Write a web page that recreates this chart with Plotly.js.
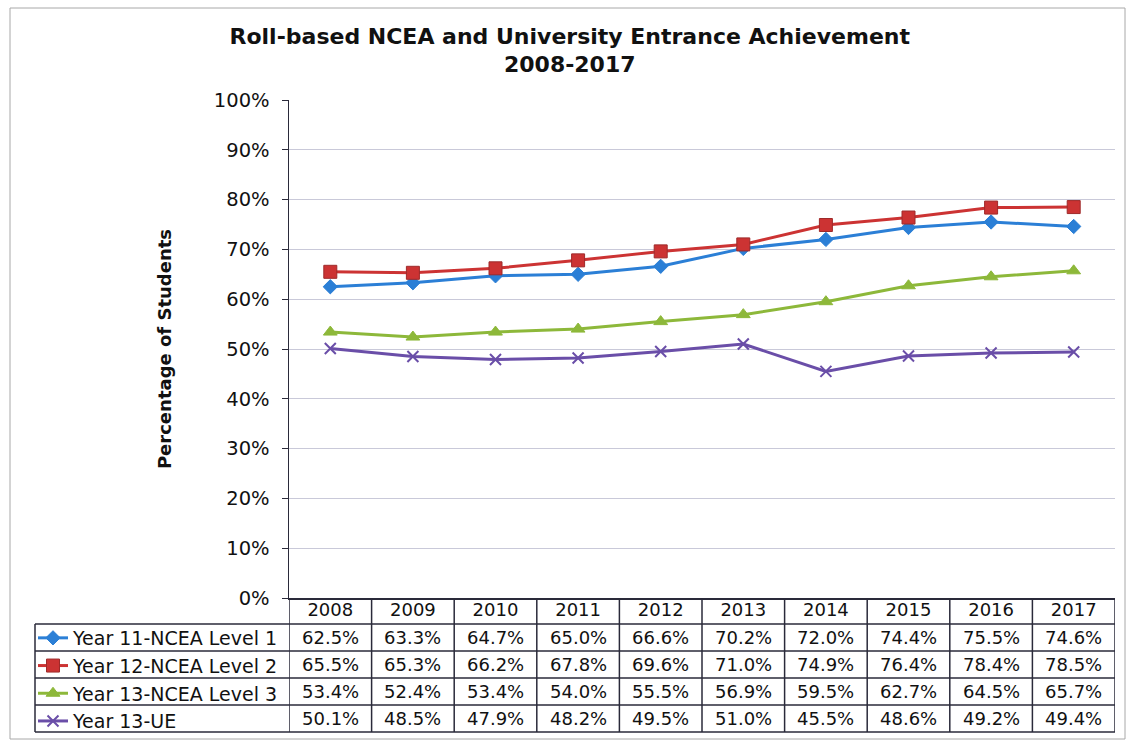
<!DOCTYPE html>
<html>
<head>
<meta charset="utf-8">
<script src="https://cdn.plot.ly/plotly-3.0.1.min.js"></script>
<style>html,body{margin:0;padding:0;background:#fff;}#chart{width:1126px;height:740px;}</style>
</head>
<body>
<div id="chart"></div>
<script>
const PCT = '\u0025';
const years = ['2008','2009','2010','2011','2012','2013','2014','2015','2016','2017'];
const seriesNames = ['Year 11-NCEA Level 1','Year 12-NCEA Level 2','Year 13-NCEA Level 3','Year 13-UE'];
const year11 = [62.5, 63.3, 64.7, 65.0, 66.6, 70.2, 72.0, 74.4, 75.5, 74.6];
const year12 = [65.5, 65.3, 66.2, 67.8, 69.6, 71.0, 74.9, 76.4, 78.4, 78.5];
const year13 = [53.4, 52.4, 53.4, 54.0, 55.5, 56.9, 59.5, 62.7, 64.5, 65.7];
const year13UE = [50.1, 48.5, 47.9, 48.2, 49.5, 51.0, 45.5, 48.6, 49.2, 49.4];
const yTicks = [0,10,20,30,40,50,60,70,80,90,100];
const yTickText = yTicks.map(v => v + PCT);

const allSeries = [year11, year12, year13, year13UE];
const colors = ['#2b7fd6', '#cc3333', '#8db83a', '#6a4ea8'];
const symbols = ['diamond', 'square', 'triangle-up', 'x-thin-open'];
const msizes = [11, 13, 12, 11];

// pixel geometry helpers (layout only)
const W = 1126, H = 740;
const mL = 35, mR = 11, mT = 100, mB = 8;
const pw = W - mL - mR, ph = H - mT - mB;
const px = x => (x - mL) / pw;
const py = y => (H - mB - y) / ph;
const plotLeft = 289, plotBottom = 598;
const rowTops = [624, 651, 678, 705, 732];

const traces = allSeries.map((vals, i) => ({
  type: 'scatter', mode: 'lines+markers', name: seriesNames[i],
  x: years, y: vals,
  line: {color: colors[i], width: 3},
  marker: {symbol: symbols[i], size: msizes[i], color: colors[i],
           line: {color: i === 1 ? '#9e2a2a' : colors[i], width: i === 3 ? 2 : 1}}
}));

const shapes = [];
const lineC = '#2a2a3a';
// outer chart border
shapes.push({type:'rect', xref:'paper', yref:'paper', x0:px(10), x1:px(1125), y0:py(739), y1:py(8), line:{color:'#a8a8a8', width:1}});
// table horizontal lines
rowTops.forEach(y => shapes.push({type:'line', xref:'paper', yref:'paper', x0:px(35), x1:1, y0:py(y), y1:py(y), line:{color:lineC, width:1.5}}));
// legend column left border
shapes.push({type:'line', xref:'paper', yref:'paper', x0:px(35), x1:px(35), y0:py(624), y1:py(732), line:{color:lineC, width:1.5}});
// column separators (category boundaries)
for (let i = 0; i <= years.length; i++) {
  shapes.push({type:'line', xref:'x', yref:'paper', x0:i-0.5, x1:i-0.5, y0:py(732), y1:py(plotBottom), line:{color:lineC, width:1.5}});
}

const annotations = [];
allSeries.forEach((vals, r) => {
  const yc = (rowTops[r] + rowTops[r+1]) / 2;
  vals.forEach((v, c) => {
    annotations.push({xref:'x', yref:'paper', x:c, y:py(yc), text: v.toFixed(1) + PCT, showarrow:false,
      font:{family:'DejaVu Sans, Verdana, sans-serif', size:18, color:'#111'}, xanchor:'center', yanchor:'middle'});
  });
});

const layout = {
  width: W, height: H,
  paper_bgcolor: '#ffffff', plot_bgcolor: '#ffffff',
  margin: {l: mL, r: mR, t: mT, b: mB, pad: 0, autoexpand: false},
  font: {family: 'DejaVu Sans, Verdana, sans-serif', color: '#111'},
  title: {text: '<b>Roll-based NCEA and University Entrance Achievement</b><br><b>2008-2017</b>',
          x: 0.506, xref: 'container', xanchor: 'center', y: 0.941, yref:'container', yanchor: 'top',
          font: {size: 22, color: '#111', family: 'DejaVu Sans, Verdana, sans-serif'}},
  xaxis: {
    type: 'category', domain: [px(plotLeft), 1], range: [-0.5, 9.5],
    showgrid: false, zeroline: false, showline: true, linecolor: lineC, linewidth: 1.5,
    ticks: '', ticklabelstandoff: -5, tickfont: {size: 18, color: '#111'}, fixedrange: true
  },
  yaxis: {
    domain: [py(plotBottom), 1], range: [0, 100], tickvals: yTicks, ticktext: yTickText,
    showgrid: true, gridcolor: '#c9c9d9', gridwidth: 1, zeroline: false,
    showline: true, linecolor: lineC, linewidth: 1.5,
    ticks: 'outside', ticklen: 6, tickcolor: lineC, ticklabelstandoff: 8,
    tickfont: {size: 19.5, color: '#111'},
    title: {text: '<b>Percentage of Students</b>', font: {size: 18, color: '#111'}, standoff: 37},
    fixedrange: true
  },
  showlegend: true,
  legend: {x: px(33), xanchor: 'left', y: py(619), yanchor: 'top', bgcolor: 'rgba(0,0,0,0)',
           font: {size: 19, color: '#111'}, traceorder: 'normal', tracegroupgap: 0,
           borderwidth: 0},
  shapes: shapes,
  annotations: annotations
};

Plotly.newPlot('chart', traces, layout, {staticPlot: true, displayModeBar: false});
</script>
</body>
</html>
